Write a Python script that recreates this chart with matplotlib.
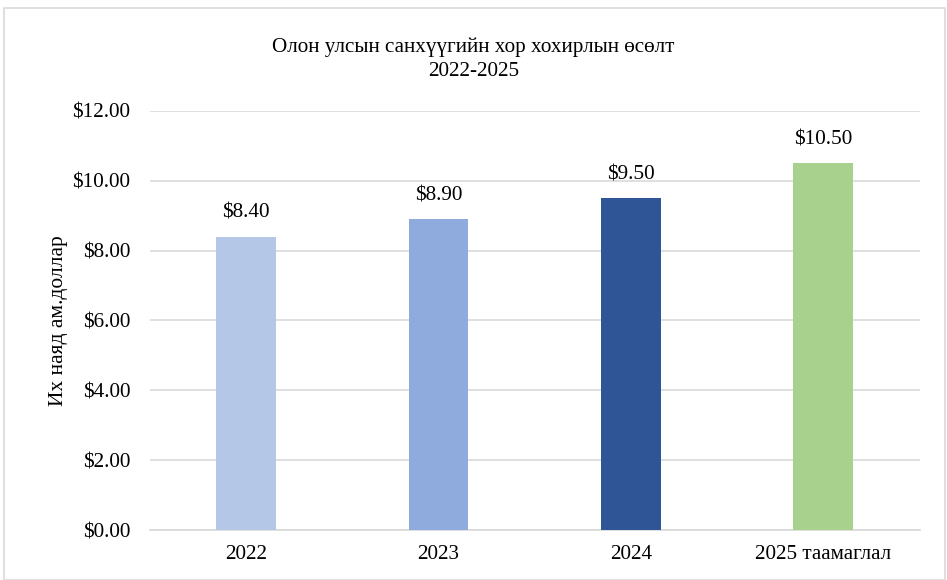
import matplotlib
matplotlib.use("Agg")
import matplotlib.pyplot as plt
from matplotlib.patches import Rectangle

categories = ["2022", "2023", "2024", "2025 таамаглал"]
values = [8.40, 8.90, 9.50, 10.50]
colors = ["#B4C7E7", "#8FAADC", "#2F5597", "#A9D18E"]
yticks = [0, 2, 4, 6, 8, 10, 12]

plt.rcParams["font.family"] = ["Liberation Serif", "DejaVu Serif"]

fig = plt.figure(figsize=(9.47, 5.8), dpi=100)
fig.patches.append(Rectangle((0.004, 0.0), 0.994, 0.986, transform=fig.transFigure,
                             fill=False, edgecolor="#d9d9d9", lw=1.2))
ax = fig.add_axes([0.158, 0.086, 0.813, 0.723])

x = range(len(categories))
ax.bar(x, values, width=0.31, color=colors, zorder=3)
for i, v in enumerate(values):
    ax.annotate(f"${v:.2f}", (i, v), xytext=(0, 10), textcoords="offset points",
                ha="center", va="bottom", fontsize=15.3)

ax.set_xlim(-0.5, 3.5)
ax.set_ylim(0, 12)
ax.set_yticks(yticks)
ax.set_yticklabels([f"${t:.2f}" for t in yticks], fontsize=15.2)
ax.set_xticks(list(x))
ax.set_xticklabels(categories, fontsize=15.2)
ax.grid(True, axis="y", color="#d9d9d9", lw=1.2, zorder=0)
for s in ["top", "right", "left"]:
    ax.spines[s].set_visible(False)
ax.spines["bottom"].set_color("#d9d9d9")
ax.spines["bottom"].set_linewidth(1.2)
ax.tick_params(axis="y", length=0, pad=14)
ax.tick_params(axis="x", length=0, pad=11)
ax.set_ylabel("Их наяд ам.доллар", fontsize=15.5)
ax.yaxis.set_label_coords(-0.106, 0.5)

fig.text(0.5, 0.898, "Олон улсын санхүүгийн хор хохирлын өсөлт\n2022-2025",
         ha="center", va="center", fontsize=15.2, linespacing=1.3)

fig.savefig("out.png", dpi=100)
